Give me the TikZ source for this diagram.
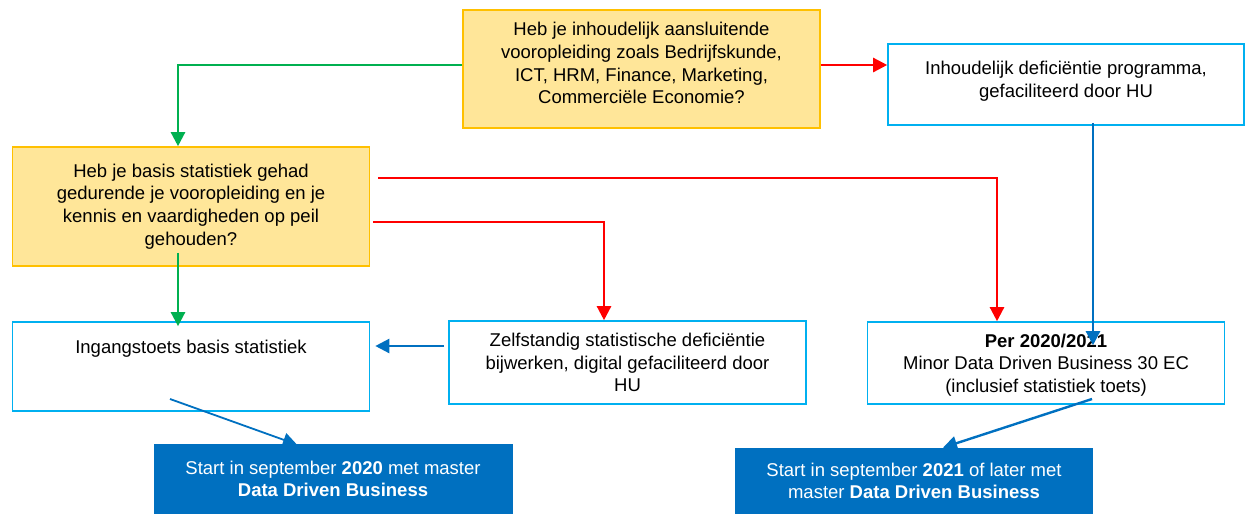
\documentclass[tikz,border=0pt]{standalone}
\usepackage{fontspec}
\setmainfont{Liberation Sans}
\usetikzlibrary{arrows.meta}
\definecolor{qyellow}{HTML}{FFE699}
\definecolor{qorange}{HTML}{FFC000}
\definecolor{qcyan}{HTML}{00B0F0}
\definecolor{qblue}{HTML}{0070C0}
\definecolor{qgreen}{HTML}{00B050}
\definecolor{qred}{HTML}{FF0000}
\begin{document}
\begin{tikzpicture}[
            x = 0.5pt, y = -0.5pt,
            every node/.style = {align = center, font = \fontsize{9.25}{11.3}\selectfont},
            question/.style = {draw = qorange, fill = qyellow, line width = 0.8pt,
                               minimum width = 178.5pt, minimum height = 59pt},
            stepbox/.style = {draw = qcyan, line width = 0.8pt, minimum width = 178.5pt},
            startbox/.style = {fill = qblue, text = white, minimum width = 179.5pt},
            arrowline/.style = {line width = 1.2pt, -{Triangle[length = 7pt, width = 7pt]}},
            yesline/.style = {arrowline, draw = qgreen},
            noline/.style = {arrowline, draw = qred},
            flowline/.style = {arrowline, draw = qblue}
            ]
            \useasboundingbox (0,0) rectangle (1246,514);
            \node[question, text depth = 6pt] (qa) at (641.5,69) {Heb je inhoudelijk aansluitende\\
                vooropleiding zoals Bedrijfskunde,\\ ICT, HRM, Finance, Marketing,\\
                Commerciële Economie?};
            \node[stepbox, minimum width = 178pt, minimum height = 40.5pt, text depth = 5pt] (qb)
                at (1066,84.5) {Inhoudelijk deficiëntie programma,\\ gefaciliteerd door HU};
            \node[question, minimum height = 59.5pt] (qc) at (191,206.5) {Heb je basis statistiek gehad\\
                gedurende je vooropleiding en je\\ kennis en vaardigheden op peil\\ gehouden?};
            \node[stepbox, minimum height = 44.5pt, text height = 7pt, text depth = 20.5pt] (qd)
                at (191,366.5) {Ingangstoets basis statistiek};
            \node[stepbox, minimum height = 41.5pt] (qe) at (627.5,362.5)
                {Zelfstandig statistische deficiëntie\\ bijwerken, digital gefaciliteerd door\\ HU};
            \node[stepbox, minimum height = 41pt, text depth = -2.5pt] (qf) at (1046,363)
                {\textbf{Per 2020/2021}\\ Minor Data Driven Business 30 EC\\ (inclusief statistiek toets)};
            \node[startbox, minimum height = 35pt] (qg) at (333,479)
                {Start in september \textbf{2020} met master\\ \textbf{Data Driven Business}};
            \node[startbox, minimum width = 179pt, minimum height = 33pt] (qh) at (914,481)
                {Start in september \textbf{2021} of later met\\ master \textbf{Data Driven Business}};
            \draw[yesline] ([yshift = 2pt]qa.west) -| ([xshift = -6.5pt]qc.north);
            \draw[noline] ([yshift = 2pt]qa.east) -- ([yshift = 2pt]qa.east -| qb.west);
            \draw[flowline] ([shift = {(13.5pt,1.5pt)}]qb.south) -- ([shift = {(23.5pt,-12pt)}]qf.north);
            \draw[noline] ([shift = {(4pt,14.25pt)}]qc.east) -| ([xshift = -24.5pt]qf.north);
            \draw[noline] ([shift = {(1.5pt,-7.75pt)}]qc.east) -| ([xshift = -11.75pt]qe.north);
            \draw[yesline] ([shift = {(-6.5pt,7pt)}]qc.south) -- ([shift = {(-6.5pt,-2.5pt)}]qd.north);
            \draw[flowline] ([shift = {(-2pt,8.25pt)}]qe.west) coordinate (e1)
                -- ([xshift = 2.5pt]e1 -| qd.east);
            \draw[flowline, line width = 0.9pt] ([shift = {(-10.5pt,-16.25pt)}]qd.center)
                -- ([shift = {(-18pt,-0.5pt)}]qg.north);
            \draw[flowline] ([shift = {(23pt,-18pt)}]qf.center) -- ([xshift = 14.5pt]qh.north);
          \end{tikzpicture}
\end{document}
